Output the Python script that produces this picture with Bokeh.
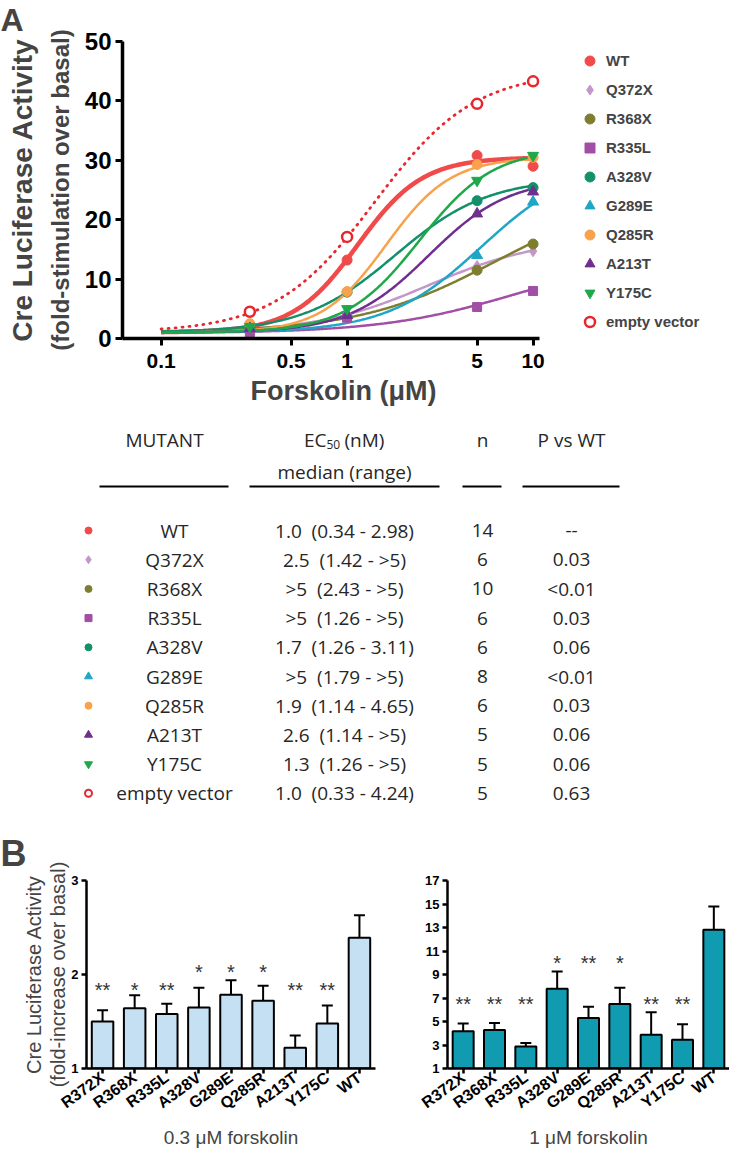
import math
import numpy as np
from bokeh.plotting import figure
from bokeh.models import (Range1d, FixedTicker, CustomJSTickFormatter, Legend, LegendItem, Title,
                          ColumnDataSource, FactorRange, Whisker, TeeHead)
from bokeh.layouts import column, row
from bokeh.embed import file_html
from bokeh.resources import INLINE
from bokeh.core.properties import value

ARIAL = "Liberation Sans"
TABLE_FONT = "Open Sans"

# ---------------- Panel A data ----------------
doses = [0.3, 1, 5, 10]  # forskolin, µM
series_names = ["WT", "Q372X", "R368X", "R335L", "A328V", "G289E", "Q285R", "A213T", "Y175C", "empty vector"]
wt = [2.0, 13.2, 30.8, 29.0]
q372x = [1.7, 4.2, 12.2, 14.7]
r368x = [1.6, 3.6, 11.5, 15.9]
r335l = [0.6, 3.5, 5.3, 8.0]
a328v = [2.0, 7.8, 23.2, 25.4]
g289e = [1.8, 4.0, 14.0, 23.0]
q285r = [2.5, 7.9, 29.3, 30.5]
a213t = [1.7, 3.9, 21.0, 24.7]
y175c = [2.0, 5.0, 26.6, 30.8]
empty_vector = [4.5, 17.1, 39.5, 43.3]

# fitted sigmoidal dose-response parameters (bottom, top, EC50 in µM, Hill slope)
fit_bottom = [1.0, 1.0, 1.0, 0.9, 1.0, 1.0, 1.0, 1.0, 1.0, 1.0]
fit_top = [30.5, 17.0, 25.0, 14.0, 27.0, 30.0, 30.5, 27.0, 32.0, 45.0]
fit_ec50 = [1.14, 2.76, 6.3, 8.0, 1.81, 5.3, 1.62, 2.75, 2.45, 1.41]
fit_hill = [2.5, 1.43, 1.17, 1.2, 1.74, 1.7, 2.5, 2.02, 2.19, 1.62]

# ---------------- table data ----------------
ec50_median = ["1.0", "2.5", ">5", ">5", "1.7", ">5", "1.9", "2.6", "1.3", "1.0"]
ec50_range = ["(0.34 - 2.98)", "(1.42 - >5)", "(2.43 - >5)", "(1.26 - >5)", "(1.26 - 3.11)",
              "(1.79 - >5)", "(1.14 - 4.65)", "(1.14 - >5)", "(1.26 - >5)", "(0.33 - 4.24)"]
n_values = ["14", "6", "10", "6", "6", "8", "6", "5", "5", "5"]
p_values = ["--", "0.03", "<0.01", "0.03", "0.06", "<0.01", "0.03", "0.06", "0.06", "0.63"]

# ---------------- Panel B data ----------------
bar_cats = ["R372X", "R368X", "R335L", "A328V", "G289E", "Q285R", "A213T", "Y175C", "WT"]
act_03 = [1.50, 1.64, 1.58, 1.65, 1.785, 1.72, 1.22, 1.48, 2.39]
err_03 = [0.12, 0.14, 0.11, 0.21, 0.155, 0.16, 0.13, 0.19, 0.24]
sig_03 = ["**", "*", "**", "*", "*", "*", "**", "**", ""]
act_1 = [4.18, 4.27, 2.88, 7.79, 5.29, 6.48, 3.88, 3.44, 12.8]
err_1 = [0.64, 0.61, 0.28, 1.46, 0.97, 1.39, 1.91, 1.33, 1.99]
sig_1 = ["**", "**", "**", "*", "**", "*", "**", "**", ""]

# ---------------- styles ----------------
series_vals = [wt, q372x, r368x, r335l, a328v, g289e, q285r, a213t, y175c, empty_vector]
markers = ["circle", "diamond", "circle", "square", "circle", "triangle", "circle", "triangle",
           "inverted_triangle", "circle"]
colors = ["#F04A4A", "#C497CB", "#7E7E30", "#A24EA6", "#13906A", "#1FA6C6", "#F8A24C", "#702E8E",
          "#1EA84A", "#E8262D"]
msizes = [10, 11, 10, 9, 10, 11, 10, 11, 11, 10]

W = 729

# ================= Panel A: dose-response =================
p1 = figure(width=W, height=428, x_axis_type="log", x_range=Range1d(0.062, 113.8),
            y_range=Range1d(0, 50), output_backend="svg", toolbar_location=None,
            min_border_left=122, min_border_right=0, min_border_top=40, min_border_bottom=90,
            frame_align=False)
p1.grid.visible = False
p1.outline_line_color = None

xs = np.logspace(-1, 1, 300)
for i, name in enumerate(series_names):
    b, t, ec, h = fit_bottom[i], fit_top[i], fit_ec50[i], fit_hill[i]
    ys = b + (t - b) / (1.0 + (ec / xs) ** h)
    if name == "empty vector":
        p1.line(xs, ys, line_color=colors[i], line_width=2.8, line_dash="1 6", line_cap="round")
    else:
        p1.line(xs, ys, line_color=colors[i], line_width=4.5 if name == "WT" else 2.5)

rends = []
for i, name in enumerate(series_names):
    if name == "empty vector":
        r = p1.scatter(doses, series_vals[i], marker="circle", size=msizes[i], fill_color="white",
                       line_color=colors[i], line_width=2.5)
    else:
        r = p1.scatter(doses, series_vals[i], marker=markers[i], size=msizes[i],
                       fill_color=colors[i], line_color=colors[i])
    rends.append(r)

legend = Legend(items=[LegendItem(label=n, renderers=[r]) for n, r in zip(series_names, rends)],
                location=(455, 4), orientation="vertical", glyph_width=25, glyph_height=25,
                label_height=25, spacing=4, padding=0, margin=0, label_standoff=4,
                label_text_font=ARIAL, label_text_font_size="15px", label_text_font_style="bold",
                border_line_alpha=0, background_fill_alpha=0)
p1.add_layout(legend)

for ax in (p1.xaxis[0], p1.yaxis[0]):
    ax.axis_line_width = 3.5
    ax.major_tick_line_width = 3
    ax.major_tick_out = 7
    ax.major_tick_in = 0
    ax.minor_tick_line_color = None
    ax.major_label_text_font = ARIAL
    ax.major_label_text_font_style = "bold"
    ax.major_label_text_color = "black"
    ax.axis_line_color = "black"
    ax.major_tick_line_color = "black"

p1.xaxis.bounds = (0.062, 10.8)
p1.xaxis.ticker = FixedTicker(ticks=[0.1, 0.5, 1, 5, 10])
p1.xaxis.formatter = CustomJSTickFormatter(code="return String(tick)")
p1.xaxis.major_label_text_font_size = "21px"
p1.xaxis.major_label_standoff = 8
p1.yaxis.ticker = FixedTicker(ticks=[0, 10, 20, 30, 40, 50])
p1.yaxis.major_label_text_font_size = "24px"
p1.yaxis.major_label_standoff = 4

# x-axis title centred under the dose axis (not under the whole frame, which also holds the legend)
p1.add_layout(Title(text="Forskolin (μM)", align="left", offset=128, text_font=ARIAL,
                    text_font_size="27px", text_font_style="bold", standoff=6), "below")
p1.add_layout(Title(text="(fold-stimulation over basal)", align="center", text_font=ARIAL,
                    text_font_size="24px", text_font_style="bold", standoff=15), "left")
p1.add_layout(Title(text="Cre Luciferase Activity", align="center", text_font=ARIAL,
                    text_font_size="28px", text_font_style="bold", standoff=0), "left")
p1.add_layout(Title(text="A", align="left", offset=-122, text_font=ARIAL, text_font_size="32px",
                    text_font_style="bold", standoff=3, vertical_align="top"), "above")

# ================= Table =================
T_TOP, T_H = 436, 380
p2 = figure(width=W, height=T_H, x_range=Range1d(8, 8 + W), y_range=Range1d(T_TOP + T_H, T_TOP),
            output_backend="svg", toolbar_location=None, min_border=0,
            x_axis_location=None, y_axis_location=None, frame_align=False)
p2.grid.visible = False
p2.outline_line_color = None

col_marker, col_name, col_ec50, col_n, col_p = 96, 182, 352, 490, 579
head_y, sub_y, rule_y, row0, row_step = 447, 479, 494, 538, 29.2
tcol = "#262626"
tkw = dict(text_font=value(TABLE_FONT), text_font_size="19px", text_color=tcol,
           text_baseline="middle")

p2.text(x=[172, col_n, col_p], y=[head_y] * 3, text=["MUTANT", "n", "P vs WT"],
        text_align="center", **tkw)
p2.text(x=[334], y=[head_y], text=["EC"], text_align="right", **tkw)
p2.text(x=[334], y=[head_y + 5], text=["50"], text_align="left", text_font=value(TABLE_FONT),
        text_font_size="12px", text_color=tcol, text_baseline="middle")
p2.text(x=[352], y=[head_y], text=["(nM)"], text_align="left", **tkw)
p2.text(x=[col_ec50], y=[sub_y], text=["median (range)"], text_align="center", **tkw)
p2.segment(x0=[107, 257, 470, 530], y0=[rule_y] * 4, x1=[236, 447, 509, 627], y1=[rule_y] * 4,
           line_color="black", line_width=2)

nrow = len(series_names)
row_y = [row0 + row_step * i for i in range(nrow)]
ec50_cells = [m + "\u00a0 " + r for m, r in zip(ec50_median, ec50_range)]
p2.text(x=[col_name] * nrow, y=row_y, text=series_names, text_align="center", **tkw)
p2.text(x=[col_ec50] * nrow, y=row_y, text=ec50_cells, text_align="center", **tkw)
p2.text(x=[col_n] * nrow, y=row_y, text=n_values, text_align="center", **tkw)
p2.text(x=[col_p] * nrow, y=row_y, text=p_values, text_align="center", **tkw)
tsizes = [7, 8, 7, 7, 7, 8, 7, 8, 8, 7]
for i, name in enumerate(series_names):
    if name == "empty vector":
        p2.scatter([col_marker], [row_y[i]], marker="circle", size=tsizes[i], fill_color="white",
                   line_color=colors[i], line_width=2)
    else:
        p2.scatter([col_marker], [row_y[i]], marker=markers[i], size=tsizes[i],
                   fill_color=colors[i], line_color=colors[i])

# ================= Panel B: bar charts =================
B_H = 1159 - (T_TOP + T_H)


def bar_panel(width, left, right, vals, errs, sigs, ymax, yticks, fill, xlabel, hi_thresh,
              star_lo, star_hi, with_ytitle):
    p = figure(width=width, height=B_H, x_range=FactorRange(*bar_cats), y_range=Range1d(1, ymax),
               output_backend="svg", toolbar_location=None, min_border_left=left,
               min_border_right=right, min_border_top=72, min_border_bottom=79, frame_align=False)
    p.grid.visible = False
    p.outline_line_color = None
    tops = [v + e for v, e in zip(vals, errs)]
    src = ColumnDataSource(dict(x=bar_cats, top=vals, upper=tops))
    p.add_layout(Whisker(source=src, base="x", upper="upper", lower="top", dimension="height",
                         line_color="black", line_width=2, lower_head=None,
                         upper_head=TeeHead(size=11, line_width=2, line_color="black")))
    p.vbar(x="x", top="top", bottom=1, width=0.67, source=src, fill_color=fill,
           line_color="black", line_width=2)
    star_y = [star_hi if t > hi_thresh else star_lo for t in tops]
    p.text(x=bar_cats, y=star_y, text=sigs, text_align="center", text_baseline="middle",
           text_font=value(ARIAL), text_font_size="20px", text_color="#333333")
    for ax in (p.xaxis[0], p.yaxis[0]):
        ax.axis_line_width = 2.5
        ax.major_tick_line_width = 2.5
        ax.major_tick_out = 5
        ax.major_tick_in = 0
        ax.minor_tick_line_color = None
        ax.major_label_text_font = ARIAL
        ax.major_label_text_font_style = "bold"
        ax.major_label_text_color = "black"
    p.yaxis.ticker = FixedTicker(ticks=yticks)
    p.yaxis.major_label_text_font_size = "13px"
    p.yaxis.major_label_standoff = 3
    p.xaxis.major_label_text_font_size = "16px"
    p.xaxis.major_label_orientation = math.radians(36)
    p.xaxis.major_label_standoff = 2
    p.xaxis.axis_label = xlabel
    p.xaxis.axis_label_text_font = ARIAL
    p.xaxis.axis_label_text_font_size = "19px"
    p.xaxis.axis_label_text_font_style = "normal"
    p.xaxis.axis_label_standoff = 5
    if with_ytitle:
        p.add_layout(Title(text="(fold-increase over basal)", align="center", text_font=ARIAL,
                           text_font_size="20px", text_font_style="normal", standoff=0), "left")
        p.add_layout(Title(text="Cre Luciferase Activity", align="center", text_font=ARIAL,
                           text_font_size="20px", text_font_style="normal", standoff=0), "left")
        p.add_layout(Title(text="B", align="left", offset=-left, text_font=ARIAL,
                           text_font_size="36px", text_font_style="bold", standoff=13), "above")
    return p


p3 = bar_panel(380, 86, 5, act_03, err_03, sig_03, 3, [1, 2, 3], "#C5DFF3",
               "0.3 μM forskolin", 1.8, 1.83, 2.03, True)
p4 = bar_panel(349, 67, 0, act_1, err_1, sig_1, 17, list(range(1, 18, 2)), "#109BB0",
               "1 μM forskolin", 6.0, 6.47, 9.97, False)

layout = column(p1, p2, row(p3, p4))
open("out.html", "w").write(file_html(layout, INLINE))
